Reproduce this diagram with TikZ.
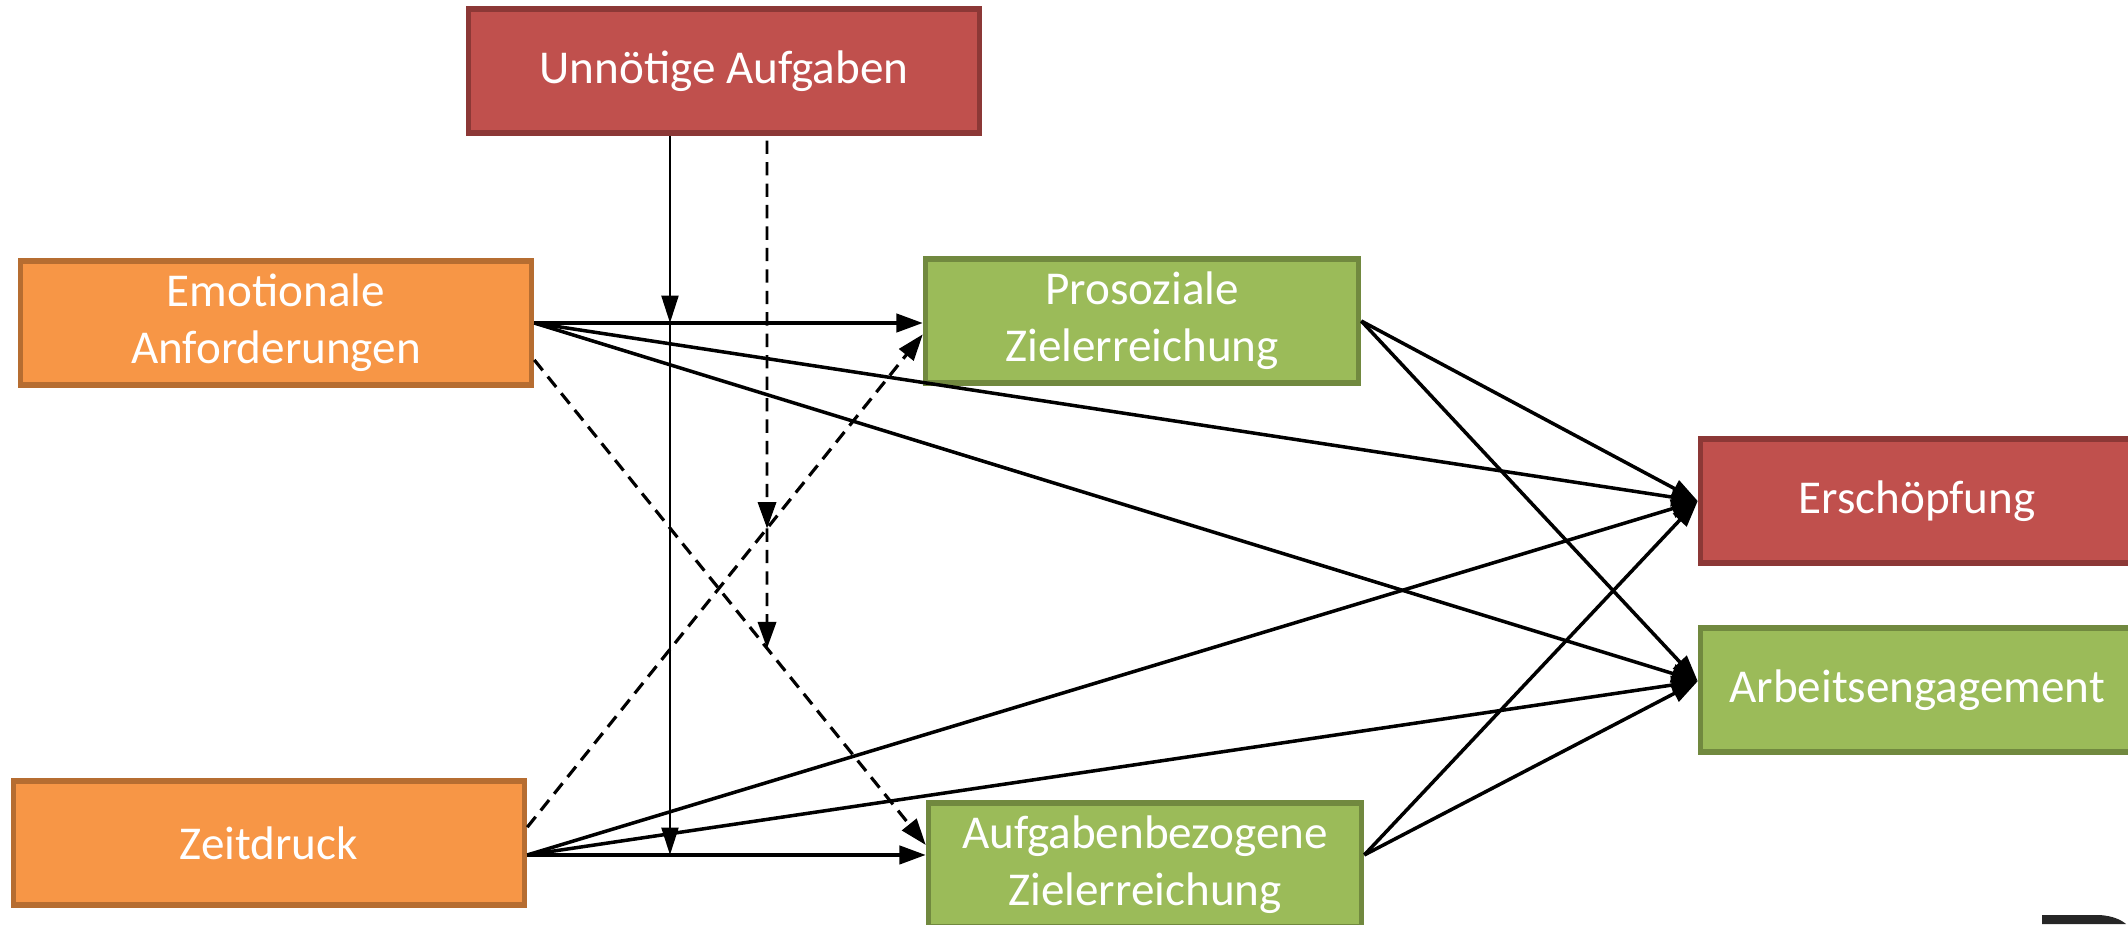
\documentclass[tikz,border=0pt]{standalone}
\usepackage{fontspec}
\setmainfont{Carlito}
\usetikzlibrary{arrows.meta}
\definecolor{redfill}{HTML}{C0504D}
\definecolor{redline}{HTML}{8C3836}
\definecolor{orafill}{HTML}{F79646}
\definecolor{oraline}{HTML}{B66D31}
\definecolor{grnfill}{HTML}{9BBB59}
\definecolor{grnline}{HTML}{71893F}
\begin{document}
\begin{tikzpicture}[x=0.01cm,y=-0.01cm,
  box/.style={draw,line width=1.5pt,text=white,align=center,inner sep=0pt,
    minimum width=4.33cm,minimum height=1.24cm,font=\fontsize{13.4}{16.2}\selectfont},
  redbox/.style={box,fill=redfill,draw=redline},
  orabox/.style={box,fill=orafill,draw=oraline,minimum width=5.11cm},
  grnbox/.style={box,fill=grnfill,draw=grnline},
  arr/.style={-{Triangle[length=7.5pt,width=5.2pt]},line width=1pt},
  varr/.style={-{Triangle[length=7.8pt,width=4.8pt]},line width=0.75pt},
  darr/.style={-{Triangle[length=7.5pt,width=5.2pt]},line width=0.9pt,dash pattern=on 3.8pt off 2.3pt}]
\useasboundingbox (0,0) rectangle (2128,924);
\clip (0,0) rectangle (2128,924);
% boxes
\node[redbox,minimum width=5.1cm] (unn) at (724,71) {Unnötige Aufgaben};
\node[orabox] (emo) at (276,323) {Emotionale\\Anforderungen};
\node[orabox] (zeit) at (269,843) {Zeitdruck};
\node[grnbox] (pro) at (1142,321) {Prosoziale\\Zielerreichung};
\node[grnbox] (auf) at (1145,865) {Aufgabenbezogene\\Zielerreichung};
\node[redbox] (ers) at (1917,501) {Erschöpfung};
\node[grnbox] (arb) at (1917,690) {Arbeitsengagement};
% ends of the paths
\coordinate (eo) at (emo.east);
\coordinate (pi) at (eo -| pro.west);
\coordinate (zo) at ([yshift=-3.4pt]zeit.east);
\coordinate (ao) at (zo -| auf.west);
\coordinate (ae) at (zo -| auf.east);
\coordinate (aw) at ([yshift=2.5pt]arb.west);
\coordinate (ze) at ([yshift=4.5pt]zeit.east);
\coordinate (pe) at ([yshift=-3.8pt]pro.west);
\coordinate (ed) at ([yshift=-10.5pt]emo.east);
\coordinate (ad) at ([yshift=5.7pt]auf.west);
% solid paths
\draw[arr] (eo) -- (pi);
\draw[arr] (zo) -- (ao);
\foreach \s in {eo,zo,pro.east,ae} {
  \draw[arr] (\s) -- (ers.west);
  \draw[arr] (\s) -- (aw);
}
% dashed paths
\draw[darr] (ze) -- (pe);
\draw[darr] (ed) -- (ad);
% moderator
\coordinate (u1) at ([xshift=-0.54cm]unn.south);
\coordinate (u2) at ([xshift=0.43cm,yshift=-1.4pt]unn.south);
\coordinate (u3) at (u2 |- zo);
\coordinate (x1) at (intersection of u2--u3 and ze--pe);
\coordinate (x2) at (intersection of u2--u3 and ed--ad);
\draw[varr] (u1) -- (u1 |- eo);
\draw[varr] (u1 |- eo) -- (u1 |- zo);
\draw[darr,line width=0.75pt] (u2) -- (x1);
\draw[darr,line width=0.75pt] (x1) -- (x2);
% corner of a letter
\fill[black!85] (2042,915) -- (2100,915) .. controls (2112,916) and (2120,919) .. (2126,924) -- (2042,924) -- cycle;
\end{tikzpicture}
\end{document}
